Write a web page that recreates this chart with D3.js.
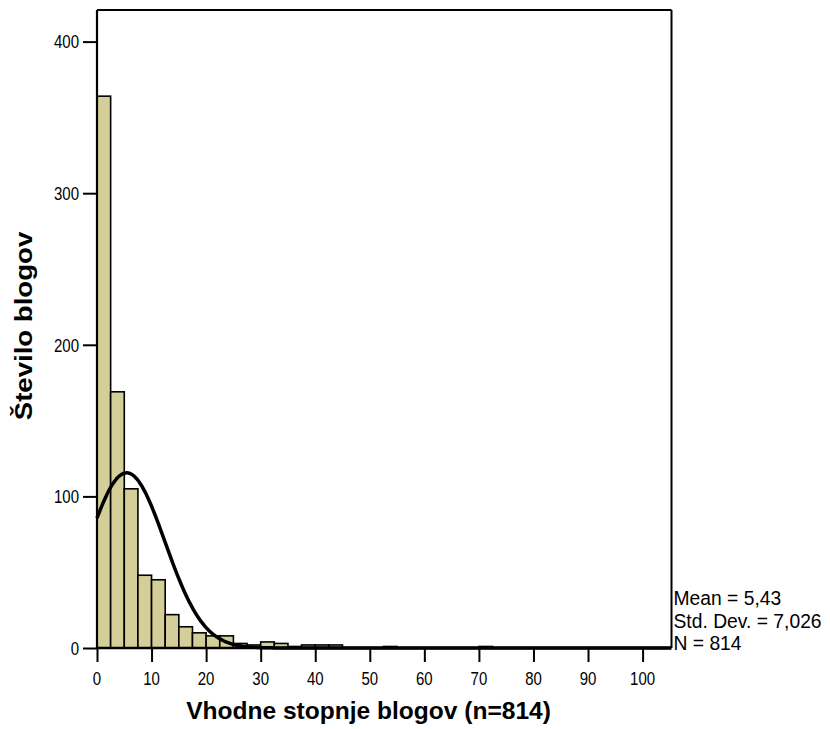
<!DOCTYPE html>
<html><head><meta charset="utf-8">
<script src="https://cdn.jsdelivr.net/npm/d3@7"></script>
<style>body{margin:0;background:#fff}svg{display:block}text{font-family:"Liberation Sans",Arial,sans-serif;fill:#000}</style>
</head><body>
<script>
// Histogram data (bin width 2.5, starting at 0)
const binWidth = 2.5;
const counts = [364,169,105,48,45,22,14,10,8,8,3,2,4,3,1,2,2,2,0,0,0,1,0,0,0,0,0,0,1];
const xTicks = [0,10,20,30,40,50,60,70,80,90,100];
const yTicks = [0,100,200,300,400];
const stats = {mean:5.43, sd:7.026, n:814};
const statLines = ["Mean = 5,43","Std. Dev. = 7,026","N = 814"];
const xTitle = "Vhodne stopnje blogov (n=814)";
const yTitle = "Število blogov";

const W = 830, H = 729;
const L = 97, R = 671.5, T = 10, B = 648;
const svg = d3.select("body").append("svg").attr("width",W).attr("height",H);

const x = d3.scaleLinear().domain([0,105.3]).range([L,R]);
const y = d3.scaleLinear().domain([0,400]).range([B,B-4*151.6]);

const bins = counts.map((c,i)=>({x0:i*binWidth,x1:(i+1)*binWidth,c})).filter(d=>d.c>0);

// bars
svg.append("g").selectAll("rect").data(bins).join("rect")
  .attr("x",d=>x(d.x0)).attr("y",d=>y(d.c))
  .attr("width",d=>x(d.x1)-x(d.x0)).attr("height",d=>y(0)-y(d.c))
  .attr("fill","#d4cf98").attr("stroke","#000").attr("stroke-width",1.6);

// normal curve
const pdf = v => stats.n*binWidth/(stats.sd*Math.sqrt(2*Math.PI))*Math.exp(-0.5*((v-stats.mean)/stats.sd)**2);
const xs = d3.range(0,105.3,0.25);
svg.append("path").datum(xs)
  .attr("d",d3.line().x(v=>x(v)).y(v=>y(pdf(v))).curve(d3.curveBasis))
  .attr("fill","none").attr("stroke","#000").attr("stroke-width",3.5);

// frame top/right
svg.append("line").attr("x1",L).attr("x2",R).attr("y1",T).attr("y2",T).attr("stroke","#000").attr("stroke-width",2);
svg.append("line").attr("x1",R).attr("x2",R).attr("y1",T).attr("y2",B).attr("stroke","#000").attr("stroke-width",2);

// axes (lines via d3 axis, labels re-drawn with slight vertical stretch)
const yAxis = svg.append("g").attr("transform",`translate(${L},0)`)
  .call(d3.axisLeft(y).tickValues(yTicks).tickSize(14).tickFormat(""));
yAxis.select(".domain").attr("d",`M0,${T}V${B}`).attr("stroke-width",2.2);
yAxis.selectAll(".tick line").attr("stroke-width",2);
svg.append("g").selectAll("text").data(yTicks).join("text")
  .attr("transform",d=>`translate(79,${y(d)+6.8}) scale(1,1.18)`)
  .attr("text-anchor","end").attr("font-size",15).text(d=>d3.format("d")(d));

const xAxis = svg.append("g").attr("transform",`translate(0,${B})`)
  .call(d3.axisBottom(x).tickValues(xTicks).tickSize(14).tickFormat(""));
xAxis.select(".domain").attr("d",`M${L},0H${R}`).attr("stroke-width",2.6);
xAxis.selectAll(".tick line").attr("stroke-width",2);
svg.append("g").selectAll("text").data(xTicks).join("text")
  .attr("transform",d=>`translate(${x(d)},685) scale(1,1.18)`)
  .attr("text-anchor","middle").attr("font-size",15).text(d=>d3.format("d")(d));

// titles
svg.append("text").attr("transform","translate(368.5,719) scale(1.045,1)").attr("text-anchor","middle")
  .attr("font-size",23.5).attr("font-weight","bold").text(xTitle);
svg.append("text").attr("transform","translate(32,326) rotate(-90) scale(1.2,1)").attr("text-anchor","middle")
  .attr("font-size",23).attr("font-weight","bold").text(yTitle);

// stats
svg.append("g").selectAll("text").data(statLines).join("text")
  .attr("x",673.5).attr("y",(d,i)=>605+i*22.5).attr("font-size",19.3).text(d=>d);
</script>
</body></html>
